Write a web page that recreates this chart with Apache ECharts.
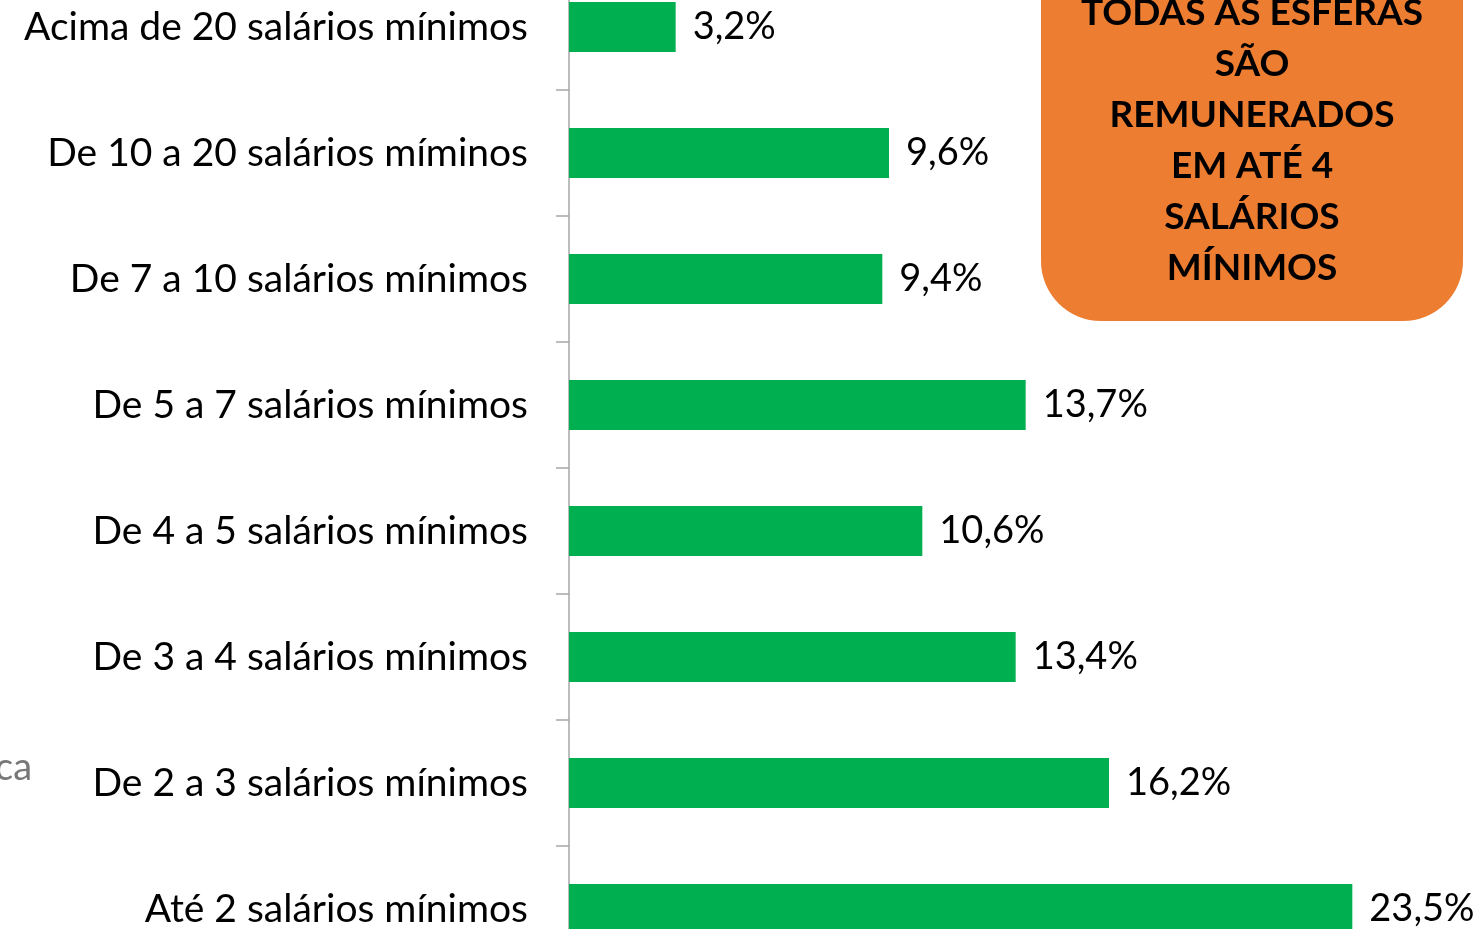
<!DOCTYPE html>
<html>
<head>
<meta charset="utf-8">
<script src="https://cdn.jsdelivr.net/npm/echarts@6/dist/echarts.min.js"></script>
<style>
  html, body { margin: 0; padding: 0; background: #fff; }
  #main { width: 1483px; height: 929px; }
</style>
</head>
<body>
<div id="main"></div>
<script>
// faixas salariais (de cima para baixo)
var categorias = [
    'Acima de 20 salários mínimos',
    'De 10 a 20 salários míminos',
    'De 7 a 10 salários mínimos',
    'De 5 a 7 salários mínimos',
    'De 4 a 5 salários mínimos',
    'De 3 a 4 salários mínimos',
    'De 2 a 3 salários mínimos',
    'Até 2 salários mínimos'
];
var percentuais = [3.2, 9.6, 9.4, 13.7, 10.6, 13.4, 16.2, 23.5];
var caixaTexto = ['TODAS AS ESFERAS', 'SÃO', 'REMUNERADOS', 'EM ATÉ 4', 'SALÁRIOS', 'MÍNIMOS'];

var fonte = 'Lato, "Open Sans", sans-serif';

var myChart = echarts.init(document.getElementById('main'));
var option = {
    animation: false,
    grid: {
        left: 569,
        top: -36,
        width: 900,
        height: 1008,
        containLabel: false,
        outerBoundsMode: 'none'
    },
    xAxis: {
        type: 'value',
        min: 0,
        max: 27,
        show: false
    },
    yAxis: {
        type: 'category',
        inverse: true,
        data: categorias,
        axisLine: { show: true, lineStyle: { color: '#a6a6a6', width: 1.5 } },
        axisTick: { show: true, length: 13, lineStyle: { color: '#a6a6a6', width: 1.5 } },
        axisLabel: {
            margin: 41,
            fontFamily: fonte,
            fontSize: 39,
            color: '#000'
        }
    },
    series: [{
        type: 'bar',
        data: percentuais,
        barWidth: 50,
        itemStyle: { color: '#00b050' },
        label: {
            show: true,
            position: 'right',
            distance: 17,
            fontFamily: fonte,
            fontSize: 38,
            color: '#000',
            formatter: function (p) {
                return String(p.value).replace('.', ',') + '%';
            }
        }
    }],
    graphic: [
        {
            type: 'rect',
            shape: { x: 1041, y: -100, width: 422, height: 421, r: 60 },
            style: { fill: '#ed7d31' },
            z: 10
        },
        {
            type: 'text',
            x: 1252,
            y: -12,
            z: 11,
            style: {
                text: caixaTexto.join('\n'),
                fontFamily: fonte,
                fontWeight: 'bold',
                fontSize: 37,
                lineHeight: 51,
                fill: '#000',
                align: 'center',
                verticalAlign: 'top'
            }
        },
        {
            type: 'text',
            x: -5,
            y: 768,
            style: {
                text: 'ca',
                fontFamily: fonte,
                fontSize: 38,
                fill: '#777',
                verticalAlign: 'middle'
            }
        }
    ]
};
myChart.setOption(option);
</script>
</body>
</html>
